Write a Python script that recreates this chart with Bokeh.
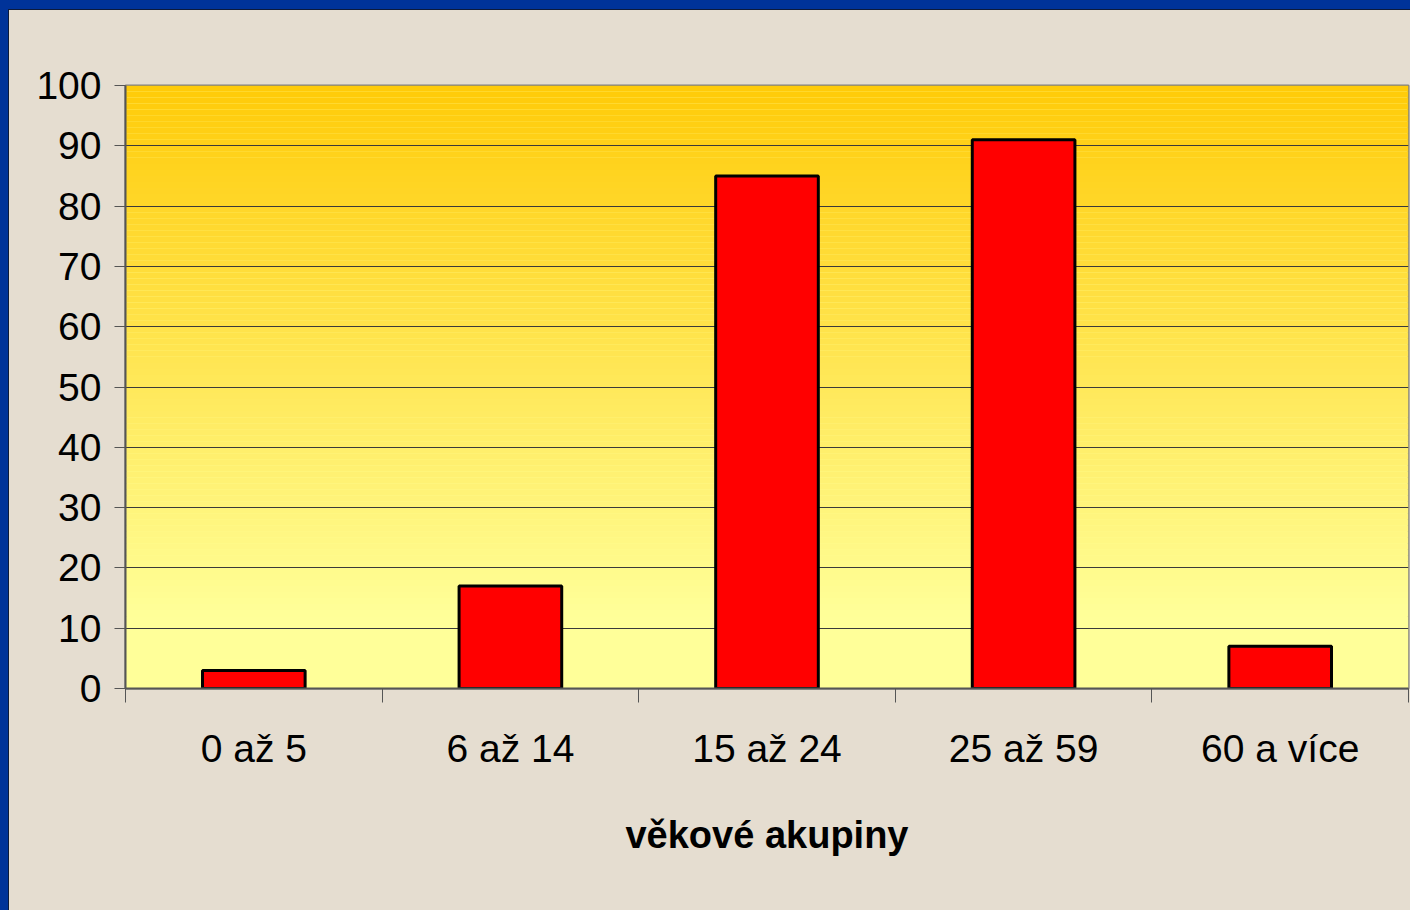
from bokeh.plotting import figure
from bokeh.models import FixedTicker, Range1d
from bokeh.embed import file_html
from bokeh.resources import INLINE

# ---- data ----
categories = ["0 až 5", "6 až 14", "15 až 24", "25 až 59", "60 a více"]
values = [3, 17, 85, 91, 7]
y_ticks = [0, 10, 20, 30, 40, 50, 60, 70, 80, 90, 100]
x_title = "věkové akupiny"

FONT = "Liberation Sans Narrow, Arial Narrow, Liberation Sans, sans-serif"
BEIGE = "#E5DDD0"
BLUE = "#003399"
DARK = "#0d1a3a"

n = len(categories)
centers = [i + 0.5 for i in range(n)]

p = figure(width=1401, height=900, output_backend="svg", toolbar_location=None,
           x_range=Range1d(0, n), y_range=Range1d(0, 100),
           min_border_left=116, min_border_top=75, min_border_bottom=222,
           min_border_right=2)

p.border_fill_color = BEIGE
p.background_fill_color = "#FFFF99"
p.outline_line_color = "#808080"
p.outline_line_width = 2

# gradient of plot area (gold at top to pale yellow)
def mix(t):
    c0 = (255, 255, 153)
    c1 = (255, 203, 8)
    return "#%02x%02x%02x" % tuple(int(round(a + (b - a) * t)) for a, b in zip(c0, c1))

g_lo = 12
steps = 88
bots, tops, cols = [0], [g_lo], [mix(0)]
for k in range(steps):
    b = g_lo + (100 - g_lo) * k / steps
    t = g_lo + (100 - g_lo) * (k + 1) / steps
    bots.append(b)
    tops.append(t)
    cols.append(mix((k + 0.5) / steps))
p.quad(left=0, right=n, bottom=bots, top=tops, fill_color=cols, line_color=None, level="image")

# bars
p.vbar(x=centers, top=values, width=0.4, fill_color="#FF0000", line_color="#000000", line_width=3)

# grid
p.xgrid.visible = False
p.ygrid.ticker = FixedTicker(ticks=y_ticks)
p.ygrid.grid_line_color = "#3a3a3a"
p.ygrid.grid_line_width = 1

# y axis
ya = p.yaxis[0]
ya.ticker = FixedTicker(ticks=y_ticks)
ya.major_label_text_font = FONT
ya.major_label_text_font_size = "39px"
ya.major_label_text_color = "#000000"
ya.major_tick_out = 11
ya.major_tick_in = 0
ya.minor_tick_line_color = None
ya.major_tick_line_color = "#555555"
ya.axis_line_color = "#555555"
ya.axis_line_width = 2
ya.major_label_standoff = 13

# x axis: labels at category centres, tick marks at category boundaries
xa = p.xaxis[0]
xa.ticker = FixedTicker(ticks=centers, minor_ticks=list(range(n + 1)))
xa.major_label_overrides = {c: lab for c, lab in zip(centers, categories)}
xa.major_tick_line_color = None
xa.major_tick_out = 0
xa.major_tick_in = 0
xa.minor_tick_out = 14
xa.minor_tick_in = 0
xa.minor_tick_line_color = "#555555"
xa.minor_tick_line_width = 1
xa.axis_line_color = "#555555"
xa.axis_line_width = 2
xa.major_label_text_font = FONT
xa.major_label_text_font_size = "39px"
xa.major_label_text_color = "#000000"
xa.major_label_standoff = 24
xa.axis_label = x_title
xa.axis_label_text_font = FONT
xa.axis_label_text_font_size = "38px"
xa.axis_label_text_font_style = "bold"
xa.axis_label_text_color = "#000000"
xa.axis_label_standoff = 41

try:
    from bokeh.models import GlobalInlineStyleSheet
    css = (
        "html{overflow:hidden;background:"
        f"linear-gradient({BLUE},{BLUE}) left top/100% 9px no-repeat,"
        f"linear-gradient({BLUE},{BLUE}) left top/8px 100% no-repeat,"
        f"linear-gradient({DARK},{DARK}) left top/100% 10px no-repeat,"
        f"linear-gradient({DARK},{DARK}) left top/9px 100% no-repeat,"
        f"{BEIGE};}}"
        "body{background:transparent;margin:0;padding:10px 0 0 9px;overflow:hidden;}"
    )
    p.stylesheets = [GlobalInlineStyleSheet(css=css)]
except Exception:
    pass

open("out.html", "w").write(file_html(p, INLINE))
